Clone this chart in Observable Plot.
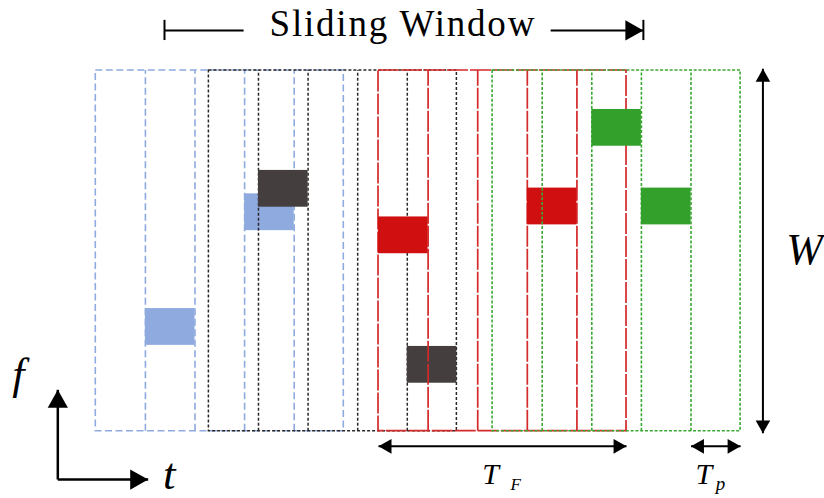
<!DOCTYPE html>
<html>
<head>
<meta charset="utf-8">
<style>
  html, body { margin: 0; padding: 0; background: #fff; }
</style>
<script src="https://cdn.jsdelivr.net/npm/d3@7"></script>
<script src="https://cdn.jsdelivr.net/npm/@observablehq/plot@0.6"></script>
</head>
<body>
<div id="chart"></div>
<script>
// ---- data (time in frame units, frequency in bin units) ----
const windows = ["blue", "black", "red", "green"];
const windowStart = [0, 2.28, 5.7, 8];
const framesPerWindow = 5;
const bandWidthW = 10;

const blockWindow = ["blue", "blue", "black", "black", "red", "red", "green", "green"];
const blockFrame  = [1, 3, 1, 4, 0, 3, 2, 3];
const blockBin    = [2.38, 5.56, 6.21, 1.33, 4.92, 5.72, 7.90, 5.72];
const blockHeight = 1.02;

const labels = ["Sliding Window", "W", "T", "F", "T", "p", "f", "t"];

// ---- styles ----
const serif = "Liberation Serif";
const styles = {
  blue:  {stroke: "#8eaadf", dash: "7,3.5", fill: "#8eaadf", w: 1.6},
  black: {stroke: "#2b2727", dash: "3,2",   fill: "#443e3e", w: 1.5},
  red:   {stroke: "#d42a2a", dash: "21,2",  fill: "#d01010", w: 1.7},
  green: {stroke: "#3aa832", dash: "3,1.8", fill: "#33a02c", w: 1.6}
};

function head(angleDeg) {
  const a = angleDeg * Math.PI / 180, c = Math.cos(a), s = Math.sin(a);
  return {
    draw(ctx, size) {
      const r = Math.sqrt(size / Math.PI);
      const L = 2.4 * r, W = 1.35 * r;
      [[0, 0], [-L, -W], [-L, W]].forEach(([x, y], i) => {
        const X = x * c - y * s, Y = x * s + y * c;
        i ? ctx.lineTo(X, Y) : ctx.moveTo(X, Y);
      });
      ctx.closePath();
    }
  };
}

const marks = [];
windows.forEach((name, wi) => {
  const st = styles[name];
  const x0 = windowStart[wi];
  marks.push(Plot.rect([{x1: x0, x2: x0 + framesPerWindow, y1: 0, y2: bandWidthW}], {
    x1: "x1", x2: "x2", y1: "y1", y2: "y2",
    fill: "none", stroke: st.stroke, strokeWidth: st.w, strokeDasharray: st.dash
  }));
  const inner = d3.range(1, framesPerWindow).map(k => x0 + k);
  marks.push(Plot.ruleX(inner, {
    x: d => d, y1: 0, y2: bandWidthW,
    stroke: st.stroke, strokeWidth: st.w, strokeDasharray: st.dash
  }));
  const blocks = blockWindow.map((w, i) => ({w, x1: x0 + blockFrame[i], f: blockBin[i]}))
    .filter(d => d.w === name);
  marks.push(Plot.rect(blocks, {
    x1: "x1", x2: d => d.x1 + 1, y1: "f", y2: d => d.f + blockHeight,
    fill: st.fill
  }));
});

// annotation geometry (data units)
const tfStart = windowStart[2], tfEnd = windowStart[2] + framesPerWindow;
const tpStart = windowStart[3] + framesPerWindow - 1, tpEnd = windowStart[3] + framesPerWindow;
const measureY = -0.42;
const titleY = 11.11;
const axX = -0.766, axY = -1.34;

const lines = [
  {x1: 1.385, y1: titleY, x2: 2.98, y2: titleY, w: 2},
  {x1: 9.17, y1: titleY, x2: 11.04, y2: titleY, w: 2},
  {x1: 13.45, y1: -0.06, x2: 13.45, y2: 10.05, w: 2},
  {x1: tfStart, y1: measureY, x2: tfEnd, y2: measureY, w: 2},
  {x1: tpStart, y1: measureY, x2: tpEnd, y2: measureY, w: 2},
  {x1: axX, y1: axY, x2: axX, y2: 1.148, w: 2.5},
  {x1: axX, y1: axY, x2: 1.056, y2: axY, w: 2.5}
];
marks.push(Plot.link(lines, {x1: "x1", y1: "y1", x2: "x2", y2: "y2", stroke: "black", strokeWidth: d => d.w}));
marks.push(Plot.ruleX([1.385, 11.04], {x: d => d, y1: 10.83, y2: 11.39, stroke: "black", strokeWidth: 2}));

const bigHeads = [
  {x: 11.04, y: titleY, a: 0},
  {x: axX, y: 1.148, a: -90},
  {x: 1.056, y: axY, a: 0}
];
const smallHeads = [
  {x: 13.45, y: 10.05, a: -90},
  {x: 13.45, y: -0.06, a: 90},
  {x: tfStart, y: measureY, a: 180},
  {x: tfEnd, y: measureY, a: 0},
  {x: tpStart, y: measureY, a: 180},
  {x: tpEnd, y: measureY, a: 0}
];
for (const h of bigHeads) marks.push(Plot.dot([h], {x: "x", y: "y", r: 7.5, symbol: head(h.a), fill: "black", stroke: "none"}));
for (const h of smallHeads) marks.push(Plot.dot([h], {x: "x", y: "y", r: 5.4, symbol: head(h.a), fill: "black", stroke: "none"}));

// texts
marks.push(Plot.text([{x: 6.19, y: 10.97, t: labels[0]}], {
  x: "x", y: "y", text: "t", fontSize: 37, fontFamily: serif, textAnchor: "middle", lineAnchor: "bottom", fill: "black"
}));
const mathTexts = [
  {x: 14.29, y: 4.64, t: labels[1], s: 44, anchor: "middle"},
  {x: 7.79, y: -1.46, t: labels[2], s: 30, anchor: "start"},
  {x: 8.36, y: -1.64, t: labels[3], s: 17, anchor: "start"},
  {x: 12.09, y: -1.46, t: labels[4], s: 30, anchor: "start"},
  {x: 12.50, y: -1.64, t: labels[5], s: 19, anchor: "start"},
  {x: -1.56, y: 1.18, t: labels[6], s: 44, anchor: "middle"},
  {x: 1.48, y: -1.60, t: labels[7], s: 45, anchor: "middle"}
];
for (const m of mathTexts) {
  marks.push(Plot.text([m], {
    x: "x", y: "y", text: "t", fontSize: m.s, fontStyle: "italic", fontFamily: serif,
    textAnchor: m.anchor, lineAnchor: "bottom", fill: "black"
  }));
}

const plot = Plot.plot({
  width: 824, height: 498,
  margin: 0,
  x: {domain: [0, 10], range: [95.3, 591.3], axis: null},
  y: {domain: [0, 10], range: [430.7, 70], axis: null},
  style: {background: "white", fontFamily: serif, color: "black"},
  marks
});
document.getElementById("chart").appendChild(plot);
const texts = Array.from(plot.querySelectorAll("text"));
const titleText = texts.find(t => t.textContent === labels[0]);
if (titleText) titleText.style.letterSpacing = "1.8px";
</script>
</body>
</html>
